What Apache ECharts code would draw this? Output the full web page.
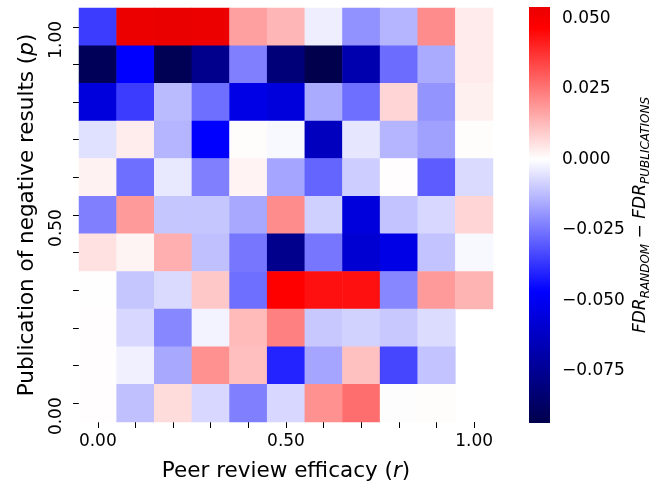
<!DOCTYPE html>
<html>
<head>
<meta charset="utf-8">
<script src="https://cdn.jsdelivr.net/npm/echarts@6/dist/echarts.min.js"></script>
<style>
html, body { margin: 0; padding: 0; background: #ffffff; }
#chart { width: 655px; height: 489px; }
</style>
</head>
<body>
<div id="chart"></div>
<script>
// ---------------- data ----------------
const rCategories = ['0.00', '0.10', '0.20', '0.30', '0.40', '0.50', '0.60', '0.70', '0.80', '0.90', '1.00'];
const pCategories = ['0.00', '0.10', '0.20', '0.30', '0.40', '0.50', '0.60', '0.70', '0.80', '0.90', '1.00'];
const xTickLabels = ['0.00', '0.50', '1.00'];
const yTickLabels = ['0.00', '0.50', '1.00'];
const colorbarTicks = [-0.075, -0.05, -0.025, 0, 0.025, 0.05];
const colorMin = -0.0936;
const colorMax = 0.0541;
// rows listed from p = 1.00 (top row) down to p = 0.00; columns r = 0.00 ... 1.00; null = no value
const fdrDiff = [
  [-0.0358, 0.0538, 0.0540, 0.0539, 0.0174, 0.0134, -0.0031, -0.0202, -0.0138, 0.0211, 0.0037],
  [-0.0905, -0.0470, -0.0915, -0.0769, -0.0233, -0.0822, -0.0936, -0.0678, -0.0270, -0.0156, 0.0037],
  [-0.0560, -0.0358, -0.0128, -0.0266, -0.0533, -0.0560, -0.0156, -0.0266, 0.0077, -0.0196, 0.0028],
  [-0.0057, 0.0035, -0.0138, -0.0470, 0.0006, -0.0013, -0.0638, -0.0046, -0.0138, -0.0174, 0.0006],
  [0.0024, -0.0266, -0.0042, -0.0233, 0.0022, -0.0165, -0.0284, -0.0092, 0.0004, -0.0299, -0.0068],
  [-0.0233, 0.0184, -0.0105, -0.0105, -0.0160, 0.0211, -0.0086, -0.0560, -0.0110, -0.0073, 0.0077],
  [0.0055, 0.0020, 0.0147, -0.0116, -0.0251, -0.0769, -0.0251, -0.0586, -0.0530, -0.0110, -0.0013],
  [0.0002, -0.0105, -0.0068, 0.0101, -0.0266, 0.0468, 0.0439, 0.0439, -0.0220, 0.0184, 0.0138],
  [0.0003, -0.0073, -0.0220, -0.0022, 0.0128, 0.0233, -0.0101, -0.0083, -0.0101, -0.0064, null],
  [0.0003, -0.0028, -0.0160, 0.0202, 0.0119, -0.0404, -0.0165, 0.0116, -0.0340, -0.0110, null],
  [0.0003, -0.0116, 0.0064, -0.0073, -0.0233, -0.0073, 0.0202, 0.0266, 0.0000, 0.0005, null]
];

// ---------------- colormap (matplotlib "seismic", centred at 0 like seaborn) ----------------
const seismicStops = [
  [0.00, [0, 0, 0.3]],
  [0.25, [0, 0, 1]],
  [0.50, [1, 1, 1]],
  [0.75, [1, 0, 0]],
  [1.00, [0.5, 0, 0]]
];
function seismic(t) {
  t = Math.max(0, Math.min(1, t));
  for (let k = 0; k < seismicStops.length - 1; k++) {
    const a = seismicStops[k], b = seismicStops[k + 1];
    if (t <= b[0]) {
      const f = (t - a[0]) / (b[0] - a[0]);
      const c = a[1].map((v, idx) => Math.round(255 * (v + (b[1][idx] - v) * f)));
      return 'rgb(' + c.join(',') + ')';
    }
  }
  return 'rgb(128,0,0)';
}
const vRange = Math.max(-colorMin, colorMax);
function cmapPos(v) { return 0.5 + 0.5 * v / vRange; }
const N = 200;
const mapColors = [];
const gradStops = [];
for (let k = 0; k <= N; k++) {
  const v = colorMin + (colorMax - colorMin) * k / N;
  const col = seismic(cmapPos(v));
  mapColors.push(col);
  gradStops.push({ offset: k / N, color: col });
}

// ---------------- heatmap data ----------------
const heatData = [];
fdrDiff.forEach((row, j) => {
  const pIdx = pCategories.length - 1 - j;
  row.forEach((v, i) => {
    heatData.push([i, pIdx, v === null ? '-' : v]);
  });
});

const FONT = 'DejaVu Sans';
const chart = echarts.init(document.getElementById('chart'), null, { renderer: 'canvas' });

const option = {
  backgroundColor: '#ffffff',
  animation: false,
  textStyle: { fontFamily: FONT, color: '#000' },
  grid: [
    { left: 79, top: 8, width: 414, height: 414 },
    { left: 529, top: 7, width: 21, height: 416 }
  ],
  xAxis: [
    {
      type: 'category',
      gridIndex: 0,
      data: rCategories,
      position: 'bottom',
      axisLine: { show: false },
      splitLine: { show: false },
      axisTick: { show: true, interval: 0, alignWithLabel: true, length: 6, lineStyle: { color: '#000', width: 1 } },
      axisLabel: {
        interval: 0,
        margin: 11,
        fontSize: 17,
        fontFamily: FONT,
        color: '#000',
        formatter: (val) => xTickLabels.indexOf(val) >= 0 ? val : ''
      },
      name: 'Peer review efficacy ({i|r})',
      nameLocation: 'middle',
      nameGap: 38,
      nameTextStyle: {
        fontSize: 21.5, fontFamily: FONT, color: '#000',
        rich: { i: { fontSize: 21.5, fontFamily: FONT, fontStyle: 'italic', color: '#000' } }
      }
    },
    {
      type: 'value',
      gridIndex: 1,
      min: 0,
      max: 1,
      show: false
    }
  ],
  yAxis: [
    {
      type: 'category',
      gridIndex: 0,
      data: pCategories,
      position: 'left',
      axisLine: { show: false },
      splitLine: { show: false },
      axisTick: { show: true, interval: 0, alignWithLabel: true, length: 6, lineStyle: { color: '#000', width: 1 } },
      axisLabel: {
        interval: 0,
        rotate: 90,
        margin: 14,
        fontSize: 17,
        fontFamily: FONT,
        color: '#000',
        padding: [0, 26, 0, 0],
        formatter: (val) => yTickLabels.indexOf(val) >= 0 ? val : ''
      },
      name: 'Publication of negative results ({i|p})',
      nameLocation: 'middle',
      nameGap: 41,
      nameTextStyle: {
        fontSize: 21.5, fontFamily: FONT, color: '#000',
        rich: { i: { fontSize: 21.5, fontFamily: FONT, fontStyle: 'italic', color: '#000' } }
      }
    },
    {
      type: 'value',
      gridIndex: 1,
      position: 'right',
      min: colorMin,
      max: colorMax,
      axisLine: { show: false },
      splitLine: { show: false },
      axisTick: { show: true, length: 6, customValues: colorbarTicks, lineStyle: { color: '#000', width: 1 } },
      axisLabel: {
        customValues: colorbarTicks,
        margin: 12,
        fontSize: 17,
        fontFamily: FONT,
        color: '#000',
        formatter: (v) => (v < 0 ? '\u2212' : '') + Math.abs(v).toFixed(3)
      },
      name: '{m|FDR}{s|RANDOM}{n| \u2212 }{m|FDR}{s|PUBLICATIONS}',
      nameLocation: 'middle',
      nameGap: 80,
      nameTextStyle: {
        fontFamily: FONT, color: '#000',
        rich: {
          m: { fontSize: 17, fontFamily: FONT, fontStyle: 'italic', color: '#000', lineHeight: 22 },
          s: { fontSize: 12, fontFamily: FONT, fontStyle: 'italic', color: '#000', verticalAlign: 'bottom', lineHeight: 22 },
          n: { fontSize: 17, fontFamily: FONT, color: '#000', lineHeight: 22 }
        }
      }
    }
  ],
  visualMap: {
    show: false,
    type: 'continuous',
    seriesIndex: 0,
    dimension: 2,
    min: colorMin,
    max: colorMax,
    inRange: { color: mapColors }
  },
  series: [
    {
      type: 'heatmap',
      xAxisIndex: 0,
      yAxisIndex: 0,
      data: heatData,
      itemStyle: { borderWidth: 0 },
      emphasis: { disabled: true }
    },
    {
      type: 'custom',
      xAxisIndex: 1,
      yAxisIndex: 1,
      data: [[0, colorMin, colorMax]],
      silent: true,
      renderItem: function (params, api) {
        const bottomLeft = api.coord([0, api.value(1)]);
        const topRight = api.coord([1, api.value(2)]);
        return {
          type: 'rect',
          shape: {
            x: bottomLeft[0],
            y: topRight[1],
            width: topRight[0] - bottomLeft[0],
            height: bottomLeft[1] - topRight[1]
          },
          style: {
            fill: new echarts.graphic.LinearGradient(0, 1, 0, 0, gradStops)
          }
        };
      }
    }
  ]
};
chart.setOption(option);
</script>
</body>
</html>
